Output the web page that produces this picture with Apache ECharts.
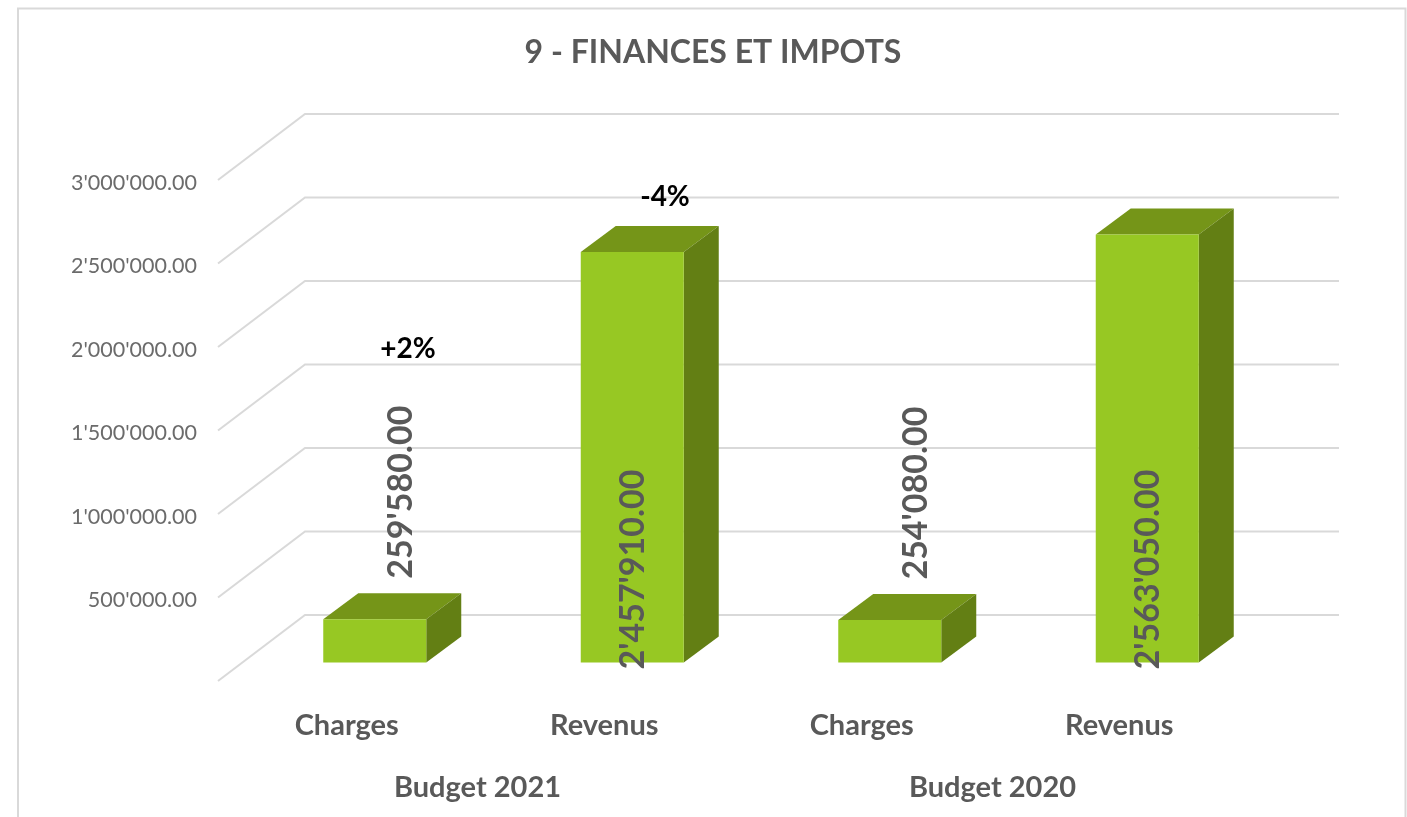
<!DOCTYPE html>
<html>
<head>
<meta charset="utf-8">
<title>9 - FINANCES ET IMPOTS</title>
<script src="https://cdn.jsdelivr.net/npm/echarts@6/dist/echarts.min.js"></script>
<style>
    html, body { margin: 0; padding: 0; background: #fff; }
    #chart { width: 1407px; height: 817px; }
</style>
</head>
<body>
<div id="chart"></div>
<script>
var categories = ['Charges', 'Revenus', 'Charges', 'Revenus'];
var budgets = ['Budget 2021', 'Budget 2020'];
var values = [259580, 2457910, 254080, 2563050];
var valueLabels = ["259'580.00", "2'457'910.00", "254'080.00", "2'563'050.00"];
var axisTicks = [0, 500000, 1000000, 1500000, 2000000, 2500000, 3000000];
var tickLabels = ['', "500'000.00", "1'000'000.00", "1'500'000.00", "2'000'000.00", "2'500'000.00", "3'000'000.00"];
var deltas = ['+2%', '-4%'];

var FONT = 'Lato, "Open Sans", sans-serif';
var GREY = '#595959';

(function() {
    //back wall and side wall lines
    var renderWallLine = function(params, api) {
        var sys = params.coordSys;
        var y = api.coord([0, api.value(1)])[1];
        return {
            type: 'polyline',
            silent: true,
            shape: {
                points: [[sys.x, y], [sys.x + 87, y - 66], [sys.x + sys.width + 91, y - 66]]
            },
            style: { fill: 'none', stroke: '#d9d9d9', lineWidth: 2 }
        };
    };

    //fake 3d column: front, top and side faces
    var renderColumn = function(params, api) {
        var i = params.dataIndex;
        var w = 103, dx = 35, dy = 26;
        var base = api.coord([i, 0]);
        var top = api.coord([i, api.value(1)]);
        var cx = base[0] + 28;
        var x0 = cx - w / 2;
        var x1 = cx + w / 2;
        var y0 = base[1] - 18.5;
        var y1 = top[1] - 18.5;
        var isCharges = i % 2 === 0;
        return {
            type: 'group',
            children: [{
                type: 'polygon',
                shape: { points: [[x0, y1], [x1, y1], [x1 + dx, y1 - dy], [x0 + dx, y1 - dy]] },
                style: { fill: '#759518' }
            }, {
                type: 'polygon',
                shape: { points: [[x1, y0], [x1 + dx, y0 - dy], [x1 + dx, y1 - dy], [x1, y1]] },
                style: { fill: '#637f14' }
            }, {
                type: 'rect',
                shape: { x: x0, y: y1, width: w, height: y0 - y1 },
                style: { fill: '#97c823' }
            }, {
                type: 'text',
                x: isCharges ? cx + 26 : cx + 1,
                y: isCharges ? y1 - 127 : y0 - 93,
                rotation: Math.PI / 2,
                style: {
                    text: valueLabels[i],
                    font: 'bold 34px ' + FONT,
                    fill: GREY,
                    align: 'center',
                    verticalAlign: 'middle'
                }
            }]
        };
    };

    var wallData = [];
    for (var i = 0, len = axisTicks.length; i < len; i++) {
        wallData.push([0, axisTicks[i]]);
    }
    var columnData = [];
    for (var i = 0, len = values.length; i < len; i++) {
        columnData.push([i, values[i]]);
    }

    var option = {
        animation: false,
        backgroundColor: '#fff',
        title: {
            text: '9 - FINANCES ET IMPOTS',
            left: 708,
            top: 32,
            textAlign: 'center',
            textStyle: { fontFamily: FONT, fontSize: 32, fontWeight: 'bold', color: GREY }
        },
        grid: { left: 218, width: 1030, top: 180, height: 501 },
        xAxis: [{
            type: 'category',
            position: 'bottom',
            data: categories,
            axisLine: { show: false },
            axisTick: { show: false },
            axisLabel: {
                interval: 0,
                margin: 30,
                fontFamily: FONT,
                fontSize: 29,
                fontWeight: 'bold',
                color: GREY
            }
        }, {
            type: 'category',
            position: 'bottom',
            offset: 62,
            data: budgets,
            axisLine: { show: false },
            axisTick: { show: false },
            axisLabel: {
                interval: 0,
                margin: 30,
                padding: [0, 0, 0, 4],
                fontFamily: FONT,
                fontSize: 29,
                fontWeight: 'bold',
                color: GREY
            }
        }],
        yAxis: {
            type: 'value',
            min: 0,
            max: 3000000,
            interval: 500000,
            splitLine: { show: false },
            axisLine: { show: false },
            axisTick: { show: false },
            axisLabel: {
                margin: 21,
                verticalAlign: 'top',
                lineHeight: 6,
                fontFamily: FONT,
                fontSize: 21.5,
                color: '#6b6b6b',
                formatter: function(value) {
                    return tickLabels[axisTicks.indexOf(value)];
                }
            }
        },
        graphic: [{
            //chart frame, open at the bottom
            type: 'polyline',
            silent: true,
            shape: { points: [[18, 817], [18, 8.5], [1405.5, 8.5], [1405.5, 817]] },
            style: { fill: 'none', stroke: '#d9d9d9', lineWidth: 2 }
        }, {
            type: 'text',
            x: 408,
            y: 349,
            z: 10,
            style: {
                text: deltas[0],
                font: 'bold 28px ' + FONT,
                fill: '#000',
                align: 'center',
                verticalAlign: 'middle'
            }
        }, {
            type: 'text',
            x: 665,
            y: 197,
            z: 10,
            style: {
                text: deltas[1],
                font: 'bold 28px ' + FONT,
                fill: '#000',
                align: 'center',
                verticalAlign: 'middle'
            }
        }],
        series: [{
            type: 'custom',
            name: 'walls',
            clip: false,
            renderItem: renderWallLine,
            encode: { x: 0, y: 1 },
            data: wallData,
            z: 1
        }, {
            type: 'custom',
            name: 'columns',
            clip: false,
            renderItem: renderColumn,
            encode: { x: 0, y: 1 },
            data: columnData,
            z: 2
        }]
    };

    var echart = echarts.init(document.getElementById('chart'));
    echart.setOption(option);
})();
</script>
</body>
</html>
